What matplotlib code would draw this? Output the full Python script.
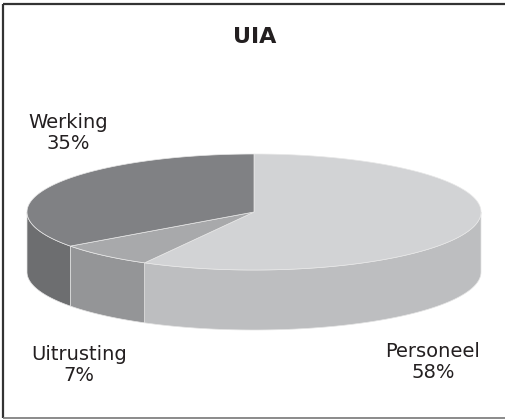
import numpy as np
import matplotlib
matplotlib.use("Agg")
import matplotlib.pyplot as plt
from matplotlib.patches import Polygon

title = "UIA"
labels = ["Personeel", "Uitrusting", "Werking"]
values = [58, 7, 35]
top_colors = ["#d2d3d5", "#a8a9ab", "#808184"]
side_colors = ["#bdbec0", "#949597", "#6d6e70"]

W, H = 506, 419
fig = plt.figure(figsize=(W / 100, H / 100), dpi=100)
ax = fig.add_axes([0, 0, 1, 1])
ax.set_xlim(0, W)
ax.set_ylim(H, 0)
ax.axis("off")

# frame
ax.plot([3, 3], [4, 418], color="#333333", lw=1.6, solid_capstyle="butt")
ax.plot([3, W], [4, 4], color="#333333", lw=1.6, solid_capstyle="butt")
ax.plot([3, W], [418, 418], color="#777777", lw=1.2, solid_capstyle="butt")

# 3D pie geometry (pixels)
cx, cy, a, b, depth = 254, 212, 227, 58, 60


def pt(t, dy=0.0):
    return cx + a * np.cos(t), cy - b * np.sin(t) + dy


total = float(sum(values))
start = np.pi / 2
bounds = []
for v in values:
    end = start - 2 * np.pi * v / total
    bounds.append((start, end))
    start = end

# side walls (front half: t in [-pi, 0])
for (s, e), col in zip(bounds, side_colors):
    segs = []
    lo, hi = max(e, -np.pi), min(s, 0.0)
    if hi > lo:
        segs.append((lo, hi))
    if e < -np.pi:
        lo2, hi2 = max(e + 2 * np.pi, -np.pi), min(s + 2 * np.pi, 0.0)
        if hi2 > lo2:
            segs.append((lo2, hi2))
    for lo_, hi_ in segs:
        ts = np.linspace(lo_, hi_, 120)
        xs, ys = pt(ts)
        top = np.column_stack([xs, ys])
        bot = np.column_stack([xs, ys + depth])[::-1]
        ax.add_patch(Polygon(np.vstack([top, bot]), closed=True, facecolor=col,
                             edgecolor="#e4e4e4", lw=0.5, zorder=2))

# top faces
for (s, e), col in zip(bounds, top_colors):
    ts = np.linspace(s, e, 200)
    xs, ys = pt(ts)
    poly = np.vstack([[cx, cy], np.column_stack([xs, ys])])
    ax.add_patch(Polygon(poly, closed=True, facecolor=col, edgecolor="#e8e8e8",
                         lw=0.5, zorder=3))

# title
ax.text(255, 37, title, ha="center", va="center", fontsize=16,
        fontweight="bold", color="#231f20")

# labels
label_pos = [(433, 362), (79, 365), (68, 133)]
for lab, v, (x, y) in zip(labels, values, label_pos):
    ax.text(x, y, f"{lab}\n{v}%", ha="center", va="center", fontsize=14,
            color="#231f20", linespacing=1.12, multialignment="center")

fig.savefig("out.png", dpi=100)
